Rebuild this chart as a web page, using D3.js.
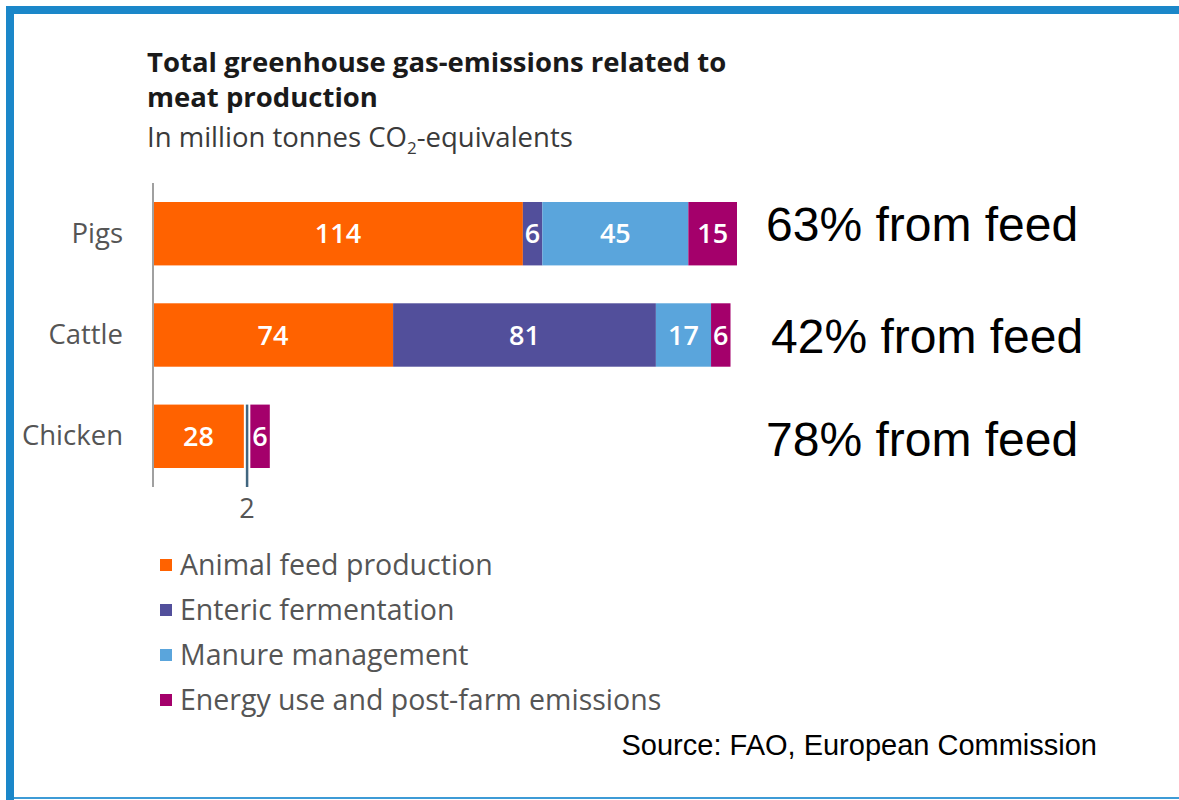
<!DOCTYPE html>
<meta charset="utf-8">
<html>
<script src="https://cdnjs.cloudflare.com/ajax/libs/d3/7.8.5/d3.min.js"></script>
<style>
  body { margin: 0; background: #fff; overflow: hidden; }
  svg { display: block; }
</style>
<div id="chart"></div>
<script>

// data (million tonnes CO2-eq)
var animals = ["Pigs", "Cattle", "Chicken"];
var sourceNames = ["Animal feed production", "Enteric fermentation", "Manure management", "Energy use and post-farm emissions"];
var feed    = [114, 74, 28];
var enteric = [6, 81, 2];
var manure  = [45, 17, 0];
var energy  = [15, 6, 6];
var feedShare = ["63% from feed", "42% from feed", "78% from feed"];

var keys = ["feed", "enteric", "manure", "energy"];
var colors = ["#ff6200", "#524f9b", "#5aa5dc", "#a4006b"];

var width = 1179,
    height = 800;

var svg = d3.select("#chart")
  .append("svg")
    .attr("width", width)
    .attr("height", height);

// blue frame
svg.append("rect").attr("x", 6).attr("y", 6).attr("width", width - 6).attr("height", 8).attr("fill", "#1b87c9");
svg.append("rect").attr("x", 6).attr("y", 6).attr("width", 8).attr("height", height - 6).attr("fill", "#1b87c9");
svg.append("rect").attr("x", 14).attr("y", 797).attr("width", width - 14).attr("height", 2).attr("fill", "#3d9bd6");

var font = "'Open Sans', sans-serif";

// title
var title = svg.append("g").attr("font-family", font);
title.append("text").attr("x", 147).attr("y", 72)
  .attr("font-size", 27.5).attr("font-weight", 700).attr("fill", "#1a1a1a")
  .text("Total greenhouse gas-emissions related to");
title.append("text").attr("x", 147).attr("y", 107)
  .attr("font-size", 27.5).attr("font-weight", 700).attr("fill", "#1a1a1a")
  .text("meat production");
var sub = title.append("text").attr("x", 147).attr("y", 147)
  .attr("font-size", 27.5).attr("fill", "#3a3a3a");
sub.append("tspan").text("In million tonnes CO");
sub.append("tspan").attr("font-size", 17).attr("dy", 7).text("2");
sub.append("tspan").attr("dy", -7).text("-equivalents");

// scales
var x = d3.scaleLinear()
  .domain([0, 180])
  .range([153, 737]);

var y = d3.scaleBand()
  .domain(animals)
  .range([202, 468])
  .paddingInner(0.374)
  .paddingOuter(0);

var color = d3.scaleOrdinal()
  .domain(keys)
  .range(colors);

var rows = animals.map(function(a, i) {
  return {animal: a, feed: feed[i], enteric: enteric[i], manure: manure[i], energy: energy[i]};
});

var stacked = d3.stack().keys(keys)(rows);

var layers = svg.selectAll("g.layer")
  .data(stacked)
  .enter().append("g")
    .attr("class", "layer")
    .attr("fill", function(d) { return color(d.key); });

// wide segments as blocks
layers.selectAll("rect")
  .data(function(d) { return d.filter(function(s) { return s[1] - s[0] >= 3; }); })
  .enter().append("rect")
    .attr("x", function(d) { return x(d[0]); })
    .attr("y", function(d) { return y(d.data.animal); })
    .attr("width", function(d) { return x(d[1]) - x(d[0]); })
    .attr("height", y.bandwidth());

layers.selectAll("text")
  .data(function(d) { return d.filter(function(s) { return s[1] - s[0] >= 3; }); })
  .enter().append("text")
    .attr("x", function(d) { return (x(d[0]) + x(d[1])) / 2; })
    .attr("y", function(d) { return y(d.data.animal) + y.bandwidth() / 2; })
    .attr("dy", "0.36em")
    .attr("text-anchor", "middle")
    .attr("fill", "#fff")
    .attr("font-family", font)
    .attr("font-weight", 600)
    .attr("font-size", 27)
    .text(function(d) { return d[1] - d[0]; });

// tiny segments get a leader line and a label under the axis
var tiny = [];
stacked.forEach(function(layer) {
  layer.forEach(function(s) {
    var v = s[1] - s[0];
    if (v > 0 && v < 3) tiny.push({x0: s[0], x1: s[1], v: v, animal: s.data.animal});
  });
});

svg.selectAll("line.tiny")
  .data(tiny)
  .enter().append("line")
    .attr("class", "tiny")
    .attr("x1", function(d) { return (x(d.x0) + x(d.x1)) / 2; })
    .attr("x2", function(d) { return (x(d.x0) + x(d.x1)) / 2; })
    .attr("y1", function(d) { return y(d.animal); })
    .attr("y2", 487)
    .attr("stroke", "#41667f")
    .attr("stroke-width", 2.5);

svg.selectAll("text.tiny")
  .data(tiny)
  .enter().append("text")
    .attr("class", "tiny")
    .attr("x", function(d) { return (x(d.x0) + x(d.x1)) / 2; })
    .attr("y", 518)
    .attr("text-anchor", "middle")
    .attr("fill", "#555")
    .attr("font-family", font)
    .attr("font-size", 27)
    .text(function(d) { return d.v; });

// category axis
var yAxis = svg.append("g")
  .attr("transform", "translate(153,0)")
  .call(d3.axisLeft(y).tickSize(0).tickPadding(30));
yAxis.select(".domain").remove();
yAxis.selectAll("text")
  .attr("font-family", font)
  .attr("font-size", 27.5)
  .attr("fill", "#555");

svg.append("line")
  .attr("x1", 153).attr("x2", 153)
  .attr("y1", 183).attr("y2", 487)
  .attr("stroke", "#a0a0a0")
  .attr("stroke-width", 2);

// share of feed notes
var noteX = [766, 771, 766],
    noteDy = [7, 18, 20];
svg.selectAll("text.note")
  .data(animals)
  .enter().append("text")
    .attr("class", "note")
    .attr("x", function(d, i) { return noteX[i]; })
    .attr("y", function(d, i) { return y(d) + y.bandwidth() / 2 + noteDy[i]; })
    .attr("font-family", "'Liberation Sans', Arial, sans-serif")
    .attr("font-size", 48)
    .attr("fill", "#000")
    .text(function(d, i) { return feedShare[i]; });

// legend
var legend = svg.selectAll(".legend")
  .data(keys)
  .enter().append("g")
    .attr("class", "legend")
    .attr("transform", function(d, i) { return "translate(160," + (565 + i * 45) + ")"; });

legend.append("rect")
  .attr("x", 0)
  .attr("y", -6)
  .attr("width", 12)
  .attr("height", 12)
  .attr("fill", function(d) { return color(d); });

legend.append("text")
  .attr("x", 20)
  .attr("y", 0)
  .attr("dy", "0.35em")
  .attr("font-family", font)
  .attr("font-size", 28.5)
  .attr("fill", "#555")
  .text(function(d, i) { return sourceNames[i]; });

// source
svg.append("text")
  .attr("x", 1097)
  .attr("y", 755)
  .attr("text-anchor", "end")
  .attr("font-family", "'Liberation Sans', Arial, sans-serif")
  .attr("font-size", 29)
  .attr("fill", "#000")
  .text("Source: FAO, European Commission");

</script>
</html>
